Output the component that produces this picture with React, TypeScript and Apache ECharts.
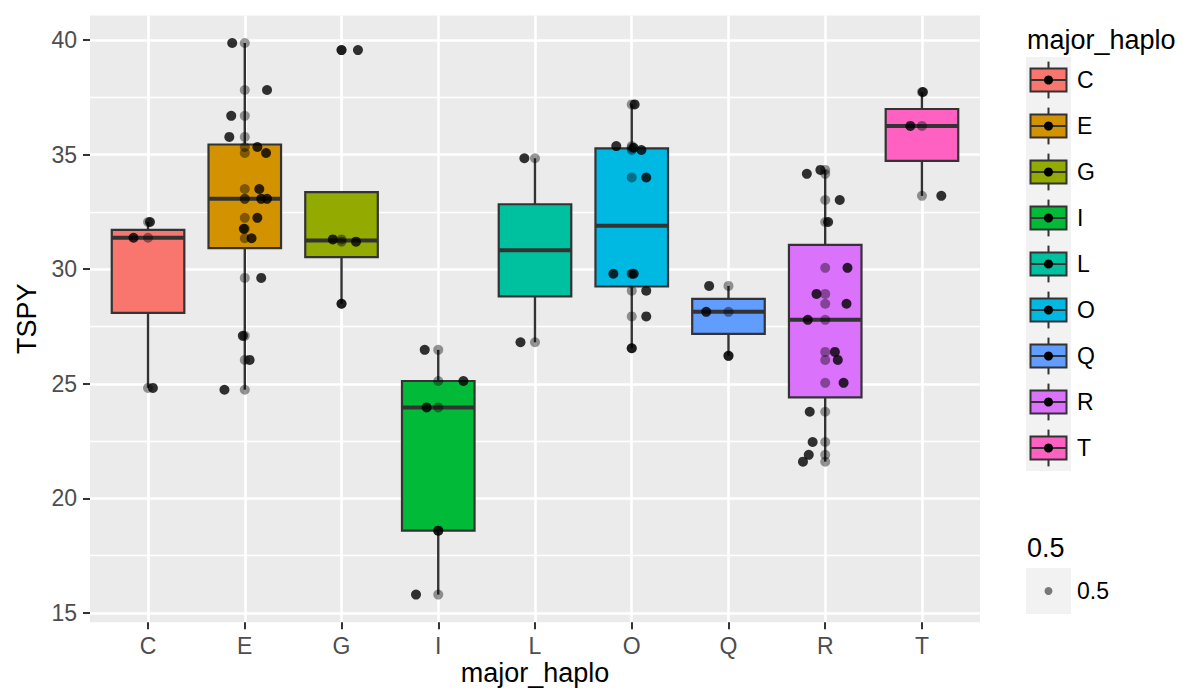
import React, { useEffect, useRef } from "react";
import * as echarts from "echarts";

// Haplogroups on the x axis and their box fill colours
const categories = ["C", "E", "G", "I", "L", "O", "Q", "R", "T"];
const boxColors = ["#F8766D", "#D39200", "#93AA00", "#00BA38", "#00C19F", "#00B9E3", "#619CFF", "#DB72FB", "#FF61C3"];

// TSPY values per haplogroup, with the horizontal jitter (in category units) of each jittered point
const tspyC = [32.06, 31.37, 24.82];
const jitterC = [0.02, -0.15, 0.05];
const tspyE = [39.87, 37.82, 36.69, 35.77, 35.33, 35.07, 33.5, 33.07, 33.07, 32.24, 31.76, 31.35, 29.62, 27.09, 26.04, 24.74];
const jitterE = [-0.13, 0.23, -0.14, -0.16, 0.13, 0.22, 0.15, 0.17, 0.23, 0.13, -0.01, 0.07, 0.17, -0.02, 0.05, -0.21];
const tspyG = [39.56, 31.3, 31.2, 28.49];
const jitterG = [0.17, -0.09, 0.15, 0.0];
const tspyI = [26.48, 25.12, 23.97, 18.59, 15.8];
const jitterI = [-0.14, 0.26, -0.12, 0.0, -0.23];
const tspyL = [34.84, 26.81];
const jitterL = [-0.11, -0.15];
const tspyO = [37.19, 35.37, 35.3, 35.2, 34.0, 29.8, 29.8, 29.06, 27.94, 26.55];
const jitterO = [0.03, -0.16, 0.02, 0.1, 0.15, -0.19, 0.02, 0.15, 0.15, 0.0];
const tspyQ = [29.27, 28.14, 26.22];
const jitterQ = [-0.2, -0.23, 0.0];
const tspyR = [34.33, 34.16, 33.02, 32.06, 30.06, 28.92, 28.49, 27.79, 26.39, 26.04, 25.04, 23.78, 22.46, 21.9, 21.6];
const jitterR = [-0.05, -0.19, 0.15, 0.03, 0.23, -0.09, 0.22, -0.18, 0.1, 0.13, 0.19, -0.16, -0.13, -0.17, -0.23];
const tspyT = [37.73, 36.25, 33.2];
const jitterT = [0.01, -0.12, 0.2];

const tspyByHaplo = [tspyC, tspyE, tspyG, tspyI, tspyL, tspyO, tspyQ, tspyR, tspyT];
const jitterByHaplo = [jitterC, jitterE, jitterG, jitterI, jitterL, jitterO, jitterQ, jitterR, jitterT];

// Axis tick positions
const xTicks = [1, 2, 3, 4, 5, 6, 7, 8, 9];
const yTicks = [15, 20, 25, 30, 35, 40];
const yMinorTicks = [17.5, 22.5, 27.5, 32.5, 37.5];

const FONT = '"Liberation Sans", Arial, sans-serif';
const DARK = "#333333";
const POINT = 10;

function quantile(sorted: number[], p: number) {
  const h = (sorted.length - 1) * p;
  const lo = Math.floor(h);
  const hi = Math.ceil(h);
  return sorted[lo] + (h - lo) * (sorted[hi] - sorted[lo]);
}

function boxStats(values: number[]) {
  const s = [...values].sort((a, b) => a - b);
  const q1 = quantile(s, 0.25);
  const med = quantile(s, 0.5);
  const q3 = quantile(s, 0.75);
  const iqr = q3 - q1;
  const lf = q1 - 1.5 * iqr;
  const uf = q3 + 1.5 * iqr;
  const inside = s.filter((v) => v >= lf && v <= uf);
  return {
    low: Math.min(...inside),
    q1,
    med,
    q3,
    high: Math.max(...inside),
    outliers: s.filter((v) => v < lf || v > uf),
  };
}

function buildOption() {
  const stats = tspyByHaplo.map(boxStats);
  const boxData = stats.map((st, i) => [i + 1, st.low, st.q1, st.med, st.q3, st.high]);
  const centred: number[][] = [];
  const jittered: number[][] = [];
  const outliers: number[][] = [];
  tspyByHaplo.forEach((vals, i) => {
    vals.forEach((v, j) => {
      centred.push([i + 1, v]);
      jittered.push([i + 1 + jitterByHaplo[i][j], v]);
    });
    stats[i].outliers.forEach((v) => outliers.push([i + 1, v]));
  });

  // y range expanded by 5% of the data range on both ends
  const all = tspyByHaplo.flat();
  const dMin = Math.min(...all);
  const dMax = Math.max(...all);
  const pad = (dMax - dMin) * 0.05;
  const yMin = dMin - pad;
  const yMax = dMax + pad;

  // Legend drawn as boxplot keys
  const keyX = 1026;
  const keyW = 45;
  const keyH = 46;
  const keyTop = 57;
  const legendChildren: any[] = [
    {
      type: "text",
      x: 1027,
      y: 40,
      style: { text: "major_haplo", font: `27px ${FONT}`, fill: "#000", verticalAlign: "middle" },
    },
    {
      type: "rect",
      shape: { x: keyX, y: keyTop, width: keyW, height: keyH * categories.length },
      style: { fill: "#F2F2F2" },
    },
  ];
  categories.forEach((c, i) => {
    const top = keyTop + i * keyH;
    const cx = keyX + keyW / 2;
    const cy = top + keyH / 2;
    legendChildren.push(
      { type: "line", shape: { x1: cx, y1: top + keyH * 0.1, x2: cx, y2: top + keyH * 0.9 }, style: { stroke: DARK, lineWidth: 2 } },
      {
        type: "rect",
        shape: { x: keyX + keyW * 0.1, y: top + keyH * 0.25, width: keyW * 0.8, height: keyH * 0.5 },
        style: { fill: boxColors[i], stroke: DARK, lineWidth: 2 },
      },
      { type: "line", shape: { x1: keyX + keyW * 0.1, y1: cy, x2: keyX + keyW * 0.9, y2: cy }, style: { stroke: DARK, lineWidth: 2 } },
      { type: "circle", shape: { cx, cy, r: 4.5 }, style: { fill: "#000" } },
      { type: "text", x: keyX + keyW + 6, y: cy, style: { text: c, font: `23px ${FONT}`, fill: "#000", verticalAlign: "middle" } }
    );
  });
  legendChildren.push(
    { type: "text", x: 1027, y: 548, style: { text: "0.5", font: `27px ${FONT}`, fill: "#000", verticalAlign: "middle" } },
    { type: "rect", shape: { x: keyX, y: 568, width: keyW, height: keyH }, style: { fill: "#F2F2F2" } },
    { type: "circle", shape: { cx: keyX + keyW / 2, cy: 591, r: 4 }, style: { fill: "rgba(0,0,0,0.5)" } },
    { type: "text", x: keyX + keyW + 6, y: 591, style: { text: "0.5", font: `23px ${FONT}`, fill: "#000", verticalAlign: "middle" } }
  );

  return {
    animation: false,
    backgroundColor: "#FFFFFF",
    textStyle: { fontFamily: FONT },
    grid: {
      show: true,
      backgroundColor: "#EBEBEB",
      borderWidth: 0,
      left: 90,
      right: 209,
      top: 15.4,
      bottom: 77.8,
      containLabel: false,
      outerBoundsMode: "none",
    },
    xAxis: {
      type: "value",
      min: 0.4,
      max: 9.6,
      name: "major_haplo",
      nameLocation: "middle",
      nameGap: 37,
      nameMoveOverlap: false,
      nameTextStyle: { fontSize: 27, lineHeight: 27, color: "#000", fontFamily: FONT },
      axisLine: { show: false },
      axisTick: { show: true, length: 7, lineStyle: { color: DARK, width: 2 }, customValues: xTicks },
      axisLabel: {
        customValues: xTicks,
        formatter: (v: number) => categories[Math.round(v) - 1] ?? "",
        color: "#4D4D4D",
        fontSize: 23,
        lineHeight: 22,
        margin: 13,
        fontFamily: FONT,
      },
      splitLine: { show: true, lineStyle: { color: "#FFFFFF", width: 2.6 } },
    },
    yAxis: [
      {
        type: "value",
        min: yMin,
        max: yMax,
        name: "TSPY",
        nameLocation: "middle",
        nameGap: 50,
        nameTextStyle: { fontSize: 27, color: "#000", fontFamily: FONT },
        axisLine: { show: false },
        axisTick: { show: true, length: 7, lineStyle: { color: DARK, width: 2 }, customValues: yTicks },
        axisLabel: { customValues: yTicks, color: "#4D4D4D", fontSize: 23, margin: 13, fontFamily: FONT },
        splitLine: { show: true, lineStyle: { color: "#FFFFFF", width: 2.6 } },
      },
      {
        type: "value",
        min: yMin,
        max: yMax,
        position: "left",
        axisLine: { show: false },
        axisTick: { show: false, customValues: yMinorTicks },
        axisLabel: { show: false, customValues: yMinorTicks },
        splitLine: { show: true, lineStyle: { color: "#FFFFFF", width: 1.3 } },
      },
    ],
    series: [
      {
        type: "custom",
        name: "box",
        silent: true,
        z: 2,
        data: boxData,
        encode: { x: 0, y: [1, 2, 3, 4, 5] },
        renderItem: (params: any, api: any) => {
          const x = api.value(0);
          const [cx, yLow] = api.coord([x, api.value(1)]);
          const yQ1 = api.coord([x, api.value(2)])[1];
          const yMed = api.coord([x, api.value(3)])[1];
          const yQ3 = api.coord([x, api.value(4)])[1];
          const yHigh = api.coord([x, api.value(5)])[1];
          const half = api.size([0.75, 0])[0] / 2;
          return {
            type: "group",
            children: [
              { type: "line", shape: { x1: cx, y1: yHigh, x2: cx, y2: yQ3 }, style: { stroke: DARK, lineWidth: 2.4 } },
              { type: "line", shape: { x1: cx, y1: yQ1, x2: cx, y2: yLow }, style: { stroke: DARK, lineWidth: 2.4 } },
              {
                type: "rect",
                shape: { x: cx - half, y: yQ3, width: half * 2, height: yQ1 - yQ3 },
                style: { fill: boxColors[params.dataIndex], stroke: DARK, lineWidth: 2.2 },
              },
              { type: "line", shape: { x1: cx - half, y1: yMed, x2: cx + half, y2: yMed }, style: { stroke: DARK, lineWidth: 4 } },
            ],
          };
        },
      },
      {
        type: "scatter",
        name: "outliers",
        silent: true,
        z: 3,
        data: outliers,
        symbolSize: POINT,
        itemStyle: { color: "#000000" },
      },
      {
        type: "scatter",
        name: "alpha",
        silent: true,
        z: 3,
        data: centred,
        symbolSize: POINT,
        itemStyle: { color: "rgba(0,0,0,0.5)" },
      },
      {
        type: "scatter",
        name: "jitter",
        silent: true,
        z: 4,
        data: jittered,
        symbolSize: POINT,
        itemStyle: { color: "#000000" },
      },
    ],
    graphic: [{ type: "group", children: legendChildren }],
  };
}

export default function App() {
  const ref = useRef<HTMLDivElement>(null);
  useEffect(() => {
    if (!ref.current) return;
    const chart = echarts.init(ref.current, null, { renderer: "svg" });
    chart.setOption(buildOption() as any);
    return () => chart.dispose();
  }, []);
  return <div ref={ref} style={{ position: "absolute", left: 0, top: 0, width: 1189, height: 700 }} />;
}
